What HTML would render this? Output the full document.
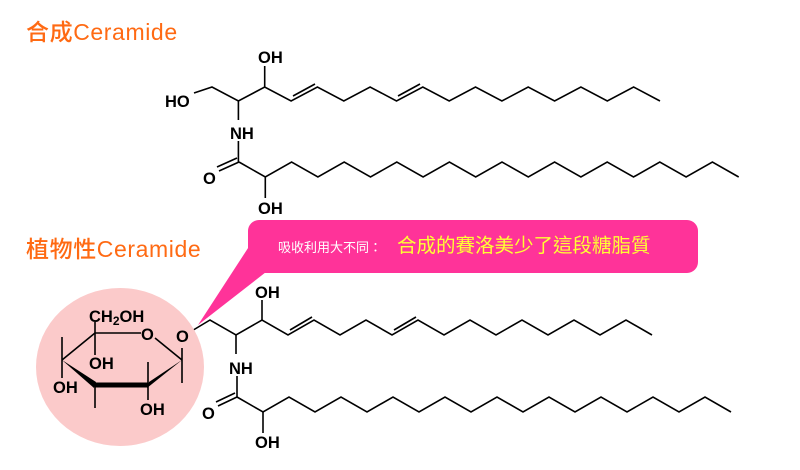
<!DOCTYPE html>
<html><head><meta charset="utf-8"><style>
html,body{margin:0;padding:0;background:#fff;}
svg{display:block;}
.t{font-family:"Liberation Sans",sans-serif;font-weight:bold;font-size:16.5px;fill:#000;}
.ti{font-family:"Liberation Sans","Noto Sans CJK TC",sans-serif;font-size:23px;fill:#ff6a13;font-weight:500;letter-spacing:0.6px;}
</style></head><body>
<svg width="800" height="470" viewBox="0 0 800 470" xmlns="http://www.w3.org/2000/svg">
<text class="ti" x="26" y="40">合成Ceramide</text>
<text class="ti" x="26" y="257">植物性Ceramide</text>

<g stroke="#000" stroke-width="1.6" fill="none" stroke-linejoin="miter">
<polyline points="194,93 212,87 238.4,101 264.7,87 291.1,101 317.4,87 343.8,101 370.1,87 396.5,101 422.8,87 449.2,101 475.5,87 501.9,101 528.2,87 554.6,101 580.9,87 607.3,101 633.6,87 660,101"/>
<line x1="293" y1="96" x2="315" y2="84"/>
<line x1="398" y1="96" x2="420" y2="84"/>
<line x1="264.7" y1="87" x2="264.7" y2="66"/>
<line x1="238.4" y1="101" x2="238.4" y2="120"/>
<line x1="238.4" y1="141" x2="238.4" y2="162"/>
<polyline points="239,162 265.3,177 291.6,162 317.9,177 344.2,162 370.5,177 396.8,162 423.1,177 449.4,162 475.7,177 502,162 528.3,177 554.6,162 580.9,177 607.2,162 633.5,177 659.8,162 686.1,177 712.4,162 738.7,177"/>
<line x1="239" y1="162" x2="219" y2="171"/>
<line x1="237" y1="158" x2="217" y2="167"/>
<line x1="265.3" y1="177" x2="265.3" y2="198"/>

<polyline points="190,332 210,320 236,335 262,320 288,335 314,320 340,335 366,320 392,335 418,320 444,335 470,320 496,335 522,320 548,335 574,320 600,335 626,320 652,335"/>
<line x1="290" y1="330" x2="312" y2="317"/>
<line x1="394" y1="330" x2="416" y2="317"/>
<line x1="262" y1="320" x2="262" y2="300"/>
<line x1="236" y1="335" x2="236" y2="354"/>
<line x1="237" y1="376" x2="237" y2="397"/>
<polyline points="237,397 263,412 289,397 315,412 341,397 367,412 393,397 419,412 445,397 471,412 497,397 523,412 549,397 575,412 601,397 627,412 653,397 679,412 705,397 731,412"/>
<line x1="237" y1="397" x2="218" y2="406"/>
<line x1="235" y1="393" x2="216" y2="402"/>
<line x1="263" y1="412" x2="263" y2="433"/>
</g>

<text class="t" x="165" y="107">HO</text>
<text class="t" x="258" y="63">OH</text>
<text class="t" x="230" y="139">NH</text>
<text class="t" x="203" y="184">O</text>
<text class="t" x="258" y="214">OH</text>

<text class="t" x="255" y="298">OH</text>
<text class="t" x="229" y="374">NH</text>
<text class="t" x="202" y="419">O</text>
<text class="t" x="255" y="448">OH</text>

<ellipse cx="120" cy="367" rx="84" ry="79" fill="#fbcaca"/>
<g stroke="#000" stroke-width="1.6" fill="none">
<line x1="95" y1="333" x2="141" y2="333"/>
<line x1="155" y1="338" x2="182" y2="360"/>
<line x1="62" y1="360" x2="95" y2="333"/>
<line x1="95" y1="322" x2="95" y2="355"/>
<line x1="95" y1="385" x2="95" y2="408"/>
<line x1="148" y1="362" x2="148" y2="400"/>
<line x1="182" y1="348" x2="182" y2="383"/>
<line x1="62" y1="337" x2="62" y2="378"/>
</g>
<polygon points="62,360 96,382 94,388" fill="#000"/>
<polygon points="182,360 149,382 147,388" fill="#000"/>
<line x1="95" y1="385" x2="148" y2="385" stroke="#000" stroke-width="5"/>
<text class="t" x="141" y="340">O</text>
<text class="t" x="176" y="342">O</text>
<text class="t" x="89" y="322">CH<tspan font-size="12" dy="3">2</tspan><tspan dy="-3">OH</tspan></text>
<text class="t" x="89" y="369">OH</text>
<text class="t" x="53" y="393">OH</text>
<text class="t" x="140" y="415">OH</text>

<polygon points="250,245 198,325 266,272" fill="#ff3399"/>
<rect x="248" y="220" width="450" height="53" rx="11" fill="#ff3399"/>
<text x="278" y="252" font-family="Liberation Sans,'Noto Sans CJK TC',sans-serif" font-size="13" fill="#fff">吸收利用大不同：</text>
<text x="397" y="252" font-family="Liberation Sans,'Noto Sans CJK TC',sans-serif" font-size="19.5" fill="#ffff33">合成的賽洛美少了這段糖脂質</text>
</svg>
</body></html>
